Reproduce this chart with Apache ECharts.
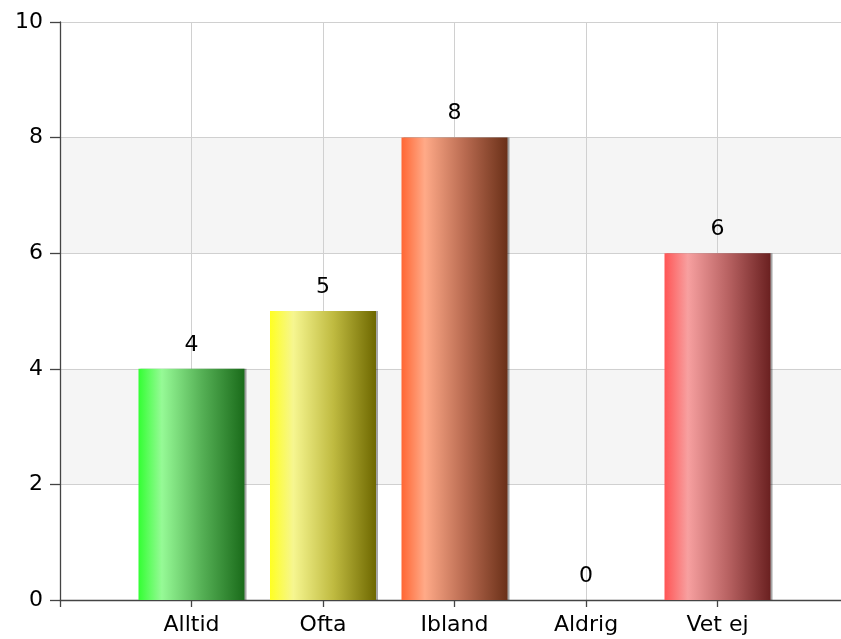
<!DOCTYPE html>
<html><head><meta charset="utf-8">
<script src="https://cdn.jsdelivr.net/npm/echarts@6/dist/echarts.min.js"></script>
<style>html,body{margin:0;padding:0;background:#fff}#c{width:841px;height:639px}</style>
</head><body><div id="c"></div>
<script>
const categories = ['Alltid', 'Ofta', 'Ibland', 'Aldrig', 'Vet ej'];
const values = [4, 5, 8, 0, 6];
const yTicks = [0, 2, 4, 6, 8, 10];
const gradients = [
  ['#33ff33', '#96fa96', '#55b055', '#1a6b1a'],
  ['#ffff22', '#f6f690', '#bfba40', '#6e6800'],
  ['#ff6633', '#ffaa88', '#b86a50', '#6a3018'],
  ['#ff5555', '#f7a0a0', '#b86262', '#6a2020'],
  ['#ff5555', '#f7a0a0', '#b86262', '#6a2020']
];
const grad = g => new echarts.graphic.LinearGradient(0, 0, 1, 0, [
  {offset: 0, color: g[0]}, {offset: 0.22, color: g[1]}, {offset: 0.6, color: g[2]}, {offset: 1, color: g[3]}
]);
const font = 'DejaVu Sans';
const chart = echarts.init(document.getElementById('c'));
chart.setOption({
  animation: false,
  grid: {left: 60, top: 22, bottom: 39, right: -8, containLabel: false, outerBoundsMode: 'none'},
  xAxis: {
    type: 'value', min: 0, max: 6, interval: 1,
    axisLine: {show: true, lineStyle: {color: '#444', width: 1.3}},
    axisTick: {show: true, length: 7, lineStyle: {color: '#444', width: 1.3}},
    axisLabel: {color: '#000', fontFamily: font, fontSize: 22, margin: 14,
      formatter: v => (Number.isInteger(v) && v >= 1 && v <= categories.length) ? categories[v - 1] : ''},
    splitLine: {show: true, lineStyle: {color: '#d0d0d0', width: 1}}
  },
  yAxis: {
    type: 'value', min: yTicks[0], max: yTicks[yTicks.length - 1], interval: 2,
    axisLine: {show: true, lineStyle: {color: '#444', width: 1.3}},
    axisTick: {show: true, length: 10, lineStyle: {color: '#444', width: 1.3}},
    axisLabel: {color: '#000', fontFamily: font, fontSize: 22, margin: 17},
    splitLine: {show: true, lineStyle: {color: '#d0d0d0', width: 1}},
    splitArea: {show: true, areaStyle: {color: ['#ffffff', '#f5f5f5']}}
  },
  series: [{
    type: 'bar',
    barWidth: 106,
    data: values.map((v, i) => ({
      value: [i + 1, v],
      itemStyle: {color: grad(gradients[i]), shadowColor: 'rgba(0,0,0,0.35)', shadowOffsetX: 2, shadowBlur: 0}
    })),
    label: {show: true, position: 'top', distance: 13, color: '#000', fontFamily: font, fontSize: 22,
      formatter: p => p.value[1]}
  }]
});
</script></body></html>
